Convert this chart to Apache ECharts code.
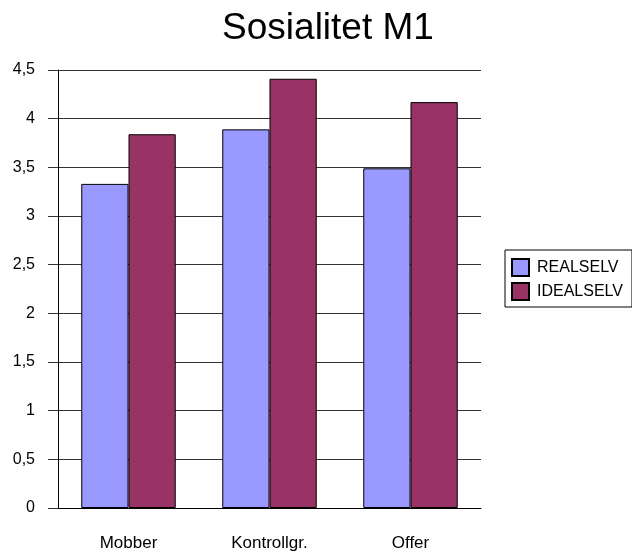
<!DOCTYPE html>
<html>
<head>
<meta charset="utf-8">
<script src="https://cdn.jsdelivr.net/npm/echarts@6/dist/echarts.min.js"></script>
<style>
  html, body { margin: 0; padding: 0; background: #fff; }
  #chart { width: 632px; height: 554px; }
</style>
</head>
<body>
<div id="chart"></div>
<script>
const categories = ['Mobber', 'Kontrollgr.', 'Offer']
const realselv = [3.33, 3.89, 3.49]
const idealselv = [3.84, 4.41, 4.17]

const chart = echarts.init(document.getElementById('chart'))
chart.setOption({
  animation: false,
  textStyle: { fontFamily: 'Liberation Sans' },
  title: {
    text: 'Sosialitet M1',
    left: 323,
    textAlign: 'center',
    top: 5,
    textStyle: { fontSize: 37, fontWeight: 'normal', color: '#000', fontFamily: 'Liberation Sans' }
  },
  legend: {
    orient: 'vertical',
    left: 505,
    top: 250,
    padding: [8, 9, 6, 6],
    itemGap: 5,
    itemWidth: 17,
    itemHeight: 17,
    borderColor: '#000',
    borderWidth: 1,
    borderRadius: 0,
    icon: 'rect',
    textStyle: { fontSize: 16, color: '#000', padding: [0, 0, 0, 3] },
    data: ['REALSELV', 'IDEALSELV']
  },
  grid: { left: 58, right: 151, top: 70, bottom: 46 },
  xAxis: {
    type: 'category',
    data: categories,
    axisLine: { lineStyle: { color: '#000' } },
    axisTick: { length: 8, lineStyle: { color: '#333' } },
    axisLabel: { fontSize: 17, color: '#000', margin: 27 }
  },
  yAxis: {
    type: 'value',
    min: 0,
    max: 4.5,
    interval: 0.5,
    axisLine: { show: true, lineStyle: { color: '#000' } },
    axisTick: { show: true, length: 10, lineStyle: { color: '#333' } },
    axisLabel: {
      fontSize: 16,
      color: '#000',
      margin: 23,
      formatter: v => String(v).replace('.', ',')
    },
    splitLine: { lineStyle: { color: '#333' } }
  },
  series: [
    {
      name: 'REALSELV',
      type: 'bar',
      data: realselv,
      barGap: '0%',
      barCategoryGap: '33%',
      itemStyle: { color: '#9999FF', borderColor: '#000', borderWidth: 1 }
    },
    {
      name: 'IDEALSELV',
      type: 'bar',
      data: idealselv,
      barGap: '0%',
      barCategoryGap: '33%',
      itemStyle: { color: '#993366', borderColor: '#000', borderWidth: 1 }
    }
  ]
})
</script>
</body>
</html>
